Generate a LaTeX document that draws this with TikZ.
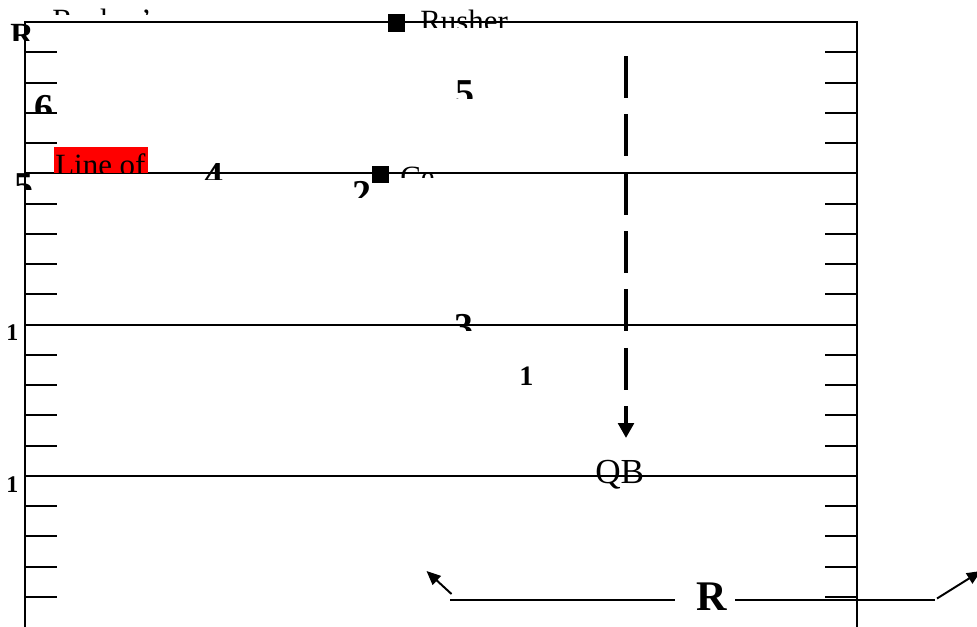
\documentclass[tikz,border=0pt]{standalone}
\usepackage{fontspec}
\setmainfont{Liberation Serif}
\usetikzlibrary{arrows.meta, calc}
\tikzset{
  >={Triangle[length=10pt,width=8.5pt]},
  field/.style={line width=1.4pt},
  marker/.style={fill=black, inner sep=0pt, minimum size=12.5pt},
  word/.style={inner sep=0pt, anchor=base west, font=\fontsize{22}{26}\selectfont},
  digit/.style={inner sep=0pt, anchor=base west, font=\bfseries\fontsize{27}{31}\selectfont},
  drop/.style={line width=2.8pt, dash pattern=on 29.8pt off 11.7pt, -{Triangle[length=10.6pt,width=11pt]}},
}

\begin{document}
\begin{tikzpicture}[x=0.025cm, y=-0.025cm]
  \clip (0,0) rectangle (977,626);

  \draw[field] (25,640) -- (25,22) -- (857,22) -- (857,640);
  \foreach \yl in {173.3, 324.6, 476}
    \draw[field] (25,\yl) -- (857,\yl);
  \foreach \band in {0,1,2,3}
    \foreach \k in {1,...,4} {
      \pgfmathsetmacro\ty{22+151.3*\band+30.26*\k}
      \draw[field] (25,\ty) -- (57,\ty);
      \draw[field] (825,\ty) -- (857,\ty);
    }

  \begin{scope}
    \clip (0,0) rectangle (300,14);
    \node[word] (rushers) at (52,30.5) {Rusher's};
  \end{scope}
  \begin{scope}
    \clip (0,0) rectangle (60,40);
    \node[digit, font=\bfseries\fontsize{23}{27}\selectfont] (rtop) at (10,45) {R};
  \end{scope}
  \begin{scope}
    \clip (410,0) rectangle (600,27.5);
    \node[word] (rusher) at (420,31) {Rusher};
  \end{scope}
  \node[marker] (rushsq) at (396.5,23) {};

  \begin{scope}
    \clip (440,60) rectangle (500,98);
    \node[digit] (five) at (455,105) {5};
  \end{scope}
  \begin{scope}
    \clip (30,80) rectangle (70,113);
    \node[digit] (six) at (34,120) {6};
  \end{scope}

  \begin{scope}
    \clip (54,147) rectangle (148,173);
    \fill[red] (54,147) rectangle (148,173);
    \node[word] (lineof) at (55,175.5) {Line of};
  \end{scope}
  \begin{scope}
    \clip (0,160) rectangle (50,189);
    \node[digit] (fiveleft) at (14,198) {5};
  \end{scope}
  \begin{scope}
    \clip (190,150) rectangle (240,179);
    \node[digit] (four) at (204,188) {4};
  \end{scope}
  \begin{scope}
    \clip (340,170) rectangle (372,197);
    \node[digit] (two) at (352,206) {2};
  \end{scope}
  \node[marker] (centsq) at (380.5,174.5) {};
  \begin{scope}
    \clip (395,150) rectangle (470,177);
    \node[word] (center) at (400,187.5) {Ce};
  \end{scope}

  \begin{scope}
    \clip (440,300) rectangle (490,330);
    \node[digit] (three) at (454,339) {3};
  \end{scope}
  \node[digit, font=\bfseries\fontsize{17}{20}\selectfont] (oneupper) at (6,340) {1};
  \node[digit, font=\bfseries\fontsize{17}{20}\selectfont] (onelower) at (6,492) {1};
  \node[digit, font=\bfseries\fontsize{20}{24}\selectfont] (onemid) at (519,385) {1};

  \node[word, font=\fontsize{25}{29}\selectfont] (qb) at (595,483) {QB};
  \coordinate (droptop) at (626,56);
  \coordinate (droptip) at (626,438);
  \draw[drop] (droptop) -- (droptip);

  \node[inner sep=0pt, anchor=base west, font=\bfseries\fontsize{30}{34}\selectfont] (rlabel) at (696,610) {R};
  \coordinate (rleft) at (450,600);
  \coordinate (rright) at (935,600);
  \draw[field] (rleft) -- ($(rleft -| rlabel.west)+(-21,0)$);
  \draw[field] ($(rright -| rlabel.east)+(8,0)$) -- (rright);
  \coordinate (rleftstub) at (451.5,594);
  \coordinate (rlefttip) at (426.5,571);
  \coordinate (rrightstub) at (937,598.5);
  \coordinate (rrighttip) at (981,571);
  \draw[field, ->] (rleftstub) -- (rlefttip);
  \draw[field, ->] (rrightstub) -- (rrighttip);
\end{tikzpicture}
\end{document}
